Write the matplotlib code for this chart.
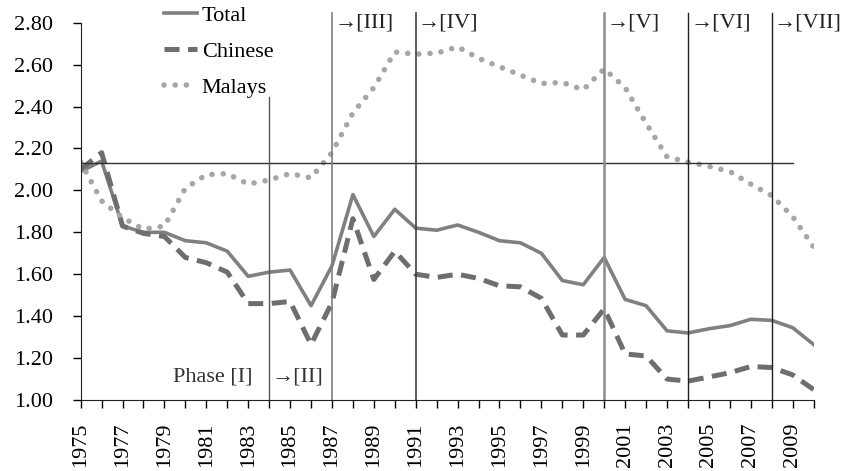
import matplotlib
matplotlib.use("Agg")
import matplotlib.pyplot as plt

plt.rcParams['font.family'] = ['Liberation Serif', 'DejaVu Serif']
plt.rcParams['font.size'] = 16

years = list(range(1975, 2011))
total = [2.09, 2.14, 1.83, 1.80, 1.80, 1.76, 1.75, 1.71, 1.59, 1.61,
         1.62, 1.45, 1.64, 1.98, 1.78, 1.91, 1.82, 1.81, 1.835, 1.80,
         1.76, 1.75, 1.70, 1.57, 1.55, 1.68, 1.48, 1.45, 1.33, 1.32,
         1.34, 1.355, 1.385, 1.38, 1.345, 1.265]
chinese = [2.10, 2.18, 1.83, 1.795, 1.78, 1.68, 1.655, 1.61, 1.46, 1.46,
           1.47, 1.265, 1.465, 1.865, 1.575, 1.71, 1.60, 1.585, 1.60, 1.58,
           1.545, 1.54, 1.485, 1.31, 1.31, 1.435, 1.22, 1.21, 1.10, 1.09,
           1.11, 1.13, 1.16, 1.155, 1.12, 1.05]
malays = [2.135, 1.95, 1.87, 1.815, 1.83, 2.01, 2.075, 2.08, 2.03, 2.05,
          2.08, 2.06, 2.18, 2.37, 2.49, 2.66, 2.65, 2.655, 2.685, 2.63,
          2.59, 2.55, 2.51, 2.515, 2.48, 2.58, 2.49, 2.32, 2.16, 2.135,
          2.115, 2.09, 2.03, 1.975, 1.875, 1.73]

replacement = 2.13
phase_years = [1987, 1991, 2000, 2004, 2008]
phase_labels = ['→[III]', '→[IV]', '→[V]', '→[VI]', '→[VII]']
phase_colors = ['#7f7f7f', '#404040', '#8c8c8c', '#202020', '#202020']
phase_widths = [1.2, 1.2, 1.8, 1.0, 1.0]

fig = plt.figure(figsize=(8.42, 4.71), dpi=100)
ax = fig.add_axes([0.0958, 0.1507, 0.8705, 0.8011])

ax.plot(years, total, color='#808080', lw=2.6, label='Total')
ax.plot(years, chinese, color='#6e6e70', lw=3.6, linestyle=(0, (3.0, 1.7)),
        label='Chinese')
ax.plot(years, malays, color='#a6a6a6', lw=4.0, linestyle=(0, (0.01, 2.0)),
        dash_capstyle='round', label='Malays')

# replacement level line and phase dividers
ax.plot([1975, 2009], [replacement, replacement], color='#303030', lw=1.0)
ax.plot([1984, 1984], [1.0, 2.446], color='#555555', lw=1.0, clip_on=False)
for yr, c, w in zip(phase_years, phase_colors, phase_widths):
    ax.plot([yr, yr], [1.0, 2.845], color=c, lw=w, clip_on=False)

ax.text(1979.4, 1.11, 'Phase [I]', ha='left', va='center', color='#333333')
ax.text(1984.1, 1.11, '→[II]', ha='left', va='center', color='#333333')
for yr, lab in zip(phase_years, phase_labels):
    ax.text(yr + 0.1, 2.80, lab, ha='left', va='center', color='#222222')

ax.set_xlim(1975, 2010)
ax.set_ylim(1.0, 2.8)
ax.set_xticks(years, minor=True)
ax.set_xticks(years[::2])
ax.set_xticklabels([str(y) for y in years[::2]], rotation=90)
ax.set_yticks([1.0 + 0.2 * i for i in range(10)])
ax.set_yticklabels(['%.2f' % (1.0 + 0.2 * i) for i in range(10)])
ax.tick_params(axis='x', which='both', length=6, width=1, pad=10, direction='out')
ax.tick_params(axis='y', length=6, width=1, pad=14, direction='out')
ax.tick_params(axis='x', which='minor', labelbottom=False)

for s in ['top', 'right']:
    ax.spines[s].set_visible(False)
ax.spines['left'].set_color('#222222')
ax.spines['bottom'].set_color('#222222')

fig.legend(loc='upper left', bbox_to_anchor=(164 / 842, 1 - 5 / 471),
           frameon=False, handlelength=1.5, handletextpad=0.2,
           labelspacing=0.7, borderpad=0, borderaxespad=0)

fig.savefig('out.png', dpi=100)
